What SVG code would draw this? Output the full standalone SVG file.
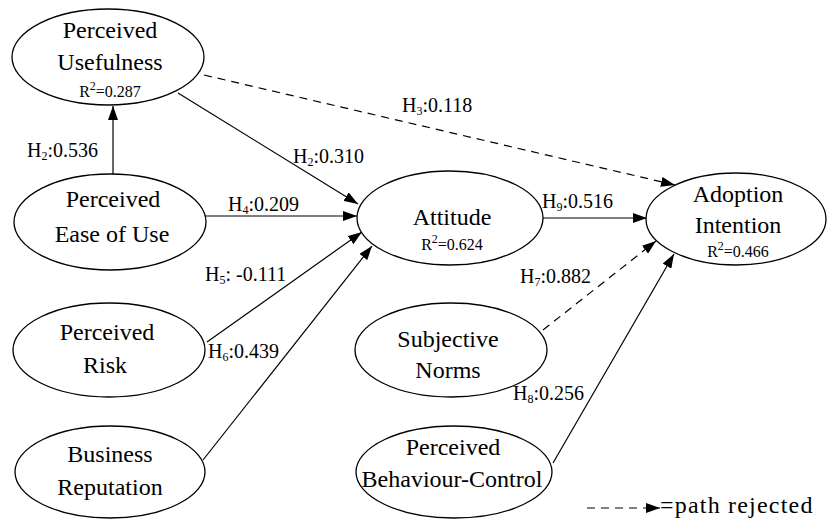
<svg xmlns="http://www.w3.org/2000/svg" width="840" height="519" viewBox="0 0 840 519">
<style>
.n{fill:#fff;stroke:#000;stroke-width:1.3}
.t{font-size:24px;fill:#000;text-anchor:middle}
.r{font-size:16px;fill:#000;text-anchor:middle}
.l{font-size:20px;fill:#000}
.s{font-size:12px}
.c{stroke:#000;stroke-width:1.2;fill:none}
.d{stroke-dasharray:8,6}
</style>
<defs>
<marker id="ah" viewBox="0 0 14 10" refX="14" refY="5" markerWidth="14" markerHeight="10" markerUnits="userSpaceOnUse" orient="auto">
<path d="M0,0 L14,5 L0,10 Z" fill="#000"/>
</marker>
</defs>
<rect width="840" height="519" fill="#fff"/>
<g font-family="'Liberation Serif', 'Times New Roman', 'DejaVu Serif', serif">
<g id="connectors">
<path class="c" d="M113,174 V106" marker-end="url(#ah)"/>
<path class="c d" d="M204,75 L675,185" marker-end="url(#ah)"/>
<path class="c" d="M178,93 L358,204" marker-end="url(#ah)"/>
<path class="c" d="M205,216 H357" marker-end="url(#ah)"/>
<path class="c" d="M207,342 L362,232" marker-end="url(#ah)"/>
<path class="c" d="M203,460 L372,246" marker-end="url(#ah)"/>
<path class="c" d="M543,218 H647" marker-end="url(#ah)"/>
<path class="c d" d="M543,330 L656,241" marker-end="url(#ah)"/>
<path class="c" d="M553,463 L674,254" marker-end="url(#ah)"/>
<path class="c d" d="M587,508 H660" stroke-dasharray="8,7" marker-end="url(#ah)"/>
</g>
<g id="labels">
<text class="l" x="27" y="157">H<tspan class="s" dy="3">2</tspan><tspan dy="-3">:0.536</tspan></text>
<text class="l" x="402" y="112">H<tspan class="s" dy="3">3</tspan><tspan dy="-3">:0.118</tspan></text>
<text class="l" x="293" y="163">H<tspan class="s" dy="3">2</tspan><tspan dy="-3">:0.310</tspan></text>
<text class="l" x="228" y="211">H<tspan class="s" dy="3">4</tspan><tspan dy="-3">:0.209</tspan></text>
<text class="l" x="542" y="208">H<tspan class="s" dy="3">9</tspan><tspan dy="-3">:0.516</tspan></text>
<text class="l" x="205" y="281">H<tspan class="s" dy="3">5</tspan><tspan dy="-3">: -0.111</tspan></text>
<text class="l" x="208" y="358">H<tspan class="s" dy="3">6</tspan><tspan dy="-3">:0.439</tspan></text>
<text class="l" x="520" y="283">H<tspan class="s" dy="3">7</tspan><tspan dy="-3">:0.882</tspan></text>
<text class="l" x="513" y="400">H<tspan class="s" dy="3">8</tspan><tspan dy="-3">:0.256</tspan></text>
<text x="660" y="513" font-size="24" letter-spacing="1.2" fill="#000">=path rejected</text>
</g>
<g id="pu">
<ellipse class="n" cx="108" cy="57" rx="96" ry="48"/>
<text class="t" x="110" y="38">Perceived</text>
<text class="t" x="110" y="70">Usefulness</text>
<text class="r" x="110" y="97">R<tspan class="s" dy="-7">2</tspan><tspan dy="7">=0.287</tspan></text>
</g>
<g id="peou">
<ellipse class="n" cx="110" cy="222" rx="96" ry="48"/>
<text class="t" x="113" y="207">Perceived</text>
<text class="t" x="112" y="242">Ease of Use</text>
</g>
<g id="pr">
<ellipse class="n" cx="109" cy="350" rx="96" ry="47"/>
<text class="t" x="107" y="340">Perceived</text>
<text class="t" x="105" y="373">Risk</text>
</g>
<g id="br">
<ellipse class="n" cx="110" cy="472" rx="95" ry="46"/>
<text class="t" x="110" y="462">Business</text>
<text class="t" x="110" y="495">Reputation</text>
</g>
<g id="att">
<ellipse class="n" cx="450" cy="218" rx="93" ry="47"/>
<text class="t" x="452" y="225">Attitude</text>
<text class="r" x="452" y="250">R<tspan class="s" dy="-7">2</tspan><tspan dy="7">=0.624</tspan></text>
</g>
<g id="ai">
<ellipse class="n" cx="736" cy="219" rx="90" ry="46"/>
<text class="t" x="738" y="202">Adoption</text>
<text class="t" x="738" y="233">Intention</text>
<text class="r" x="738" y="257">R<tspan class="s" dy="-7">2</tspan><tspan dy="7">=0.466</tspan></text>
</g>
<g id="sn">
<ellipse class="n" cx="451" cy="350" rx="96" ry="47"/>
<text class="t" x="448" y="347">Subjective</text>
<text class="t" x="448" y="378">Norms</text>
</g>
<g id="pbc">
<ellipse class="n" cx="454" cy="472" rx="98" ry="46"/>
<text class="t" x="453" y="455">Perceived</text>
<text class="t" x="452" y="487">Behaviour-Control</text>
</g>
</g>
</svg>
